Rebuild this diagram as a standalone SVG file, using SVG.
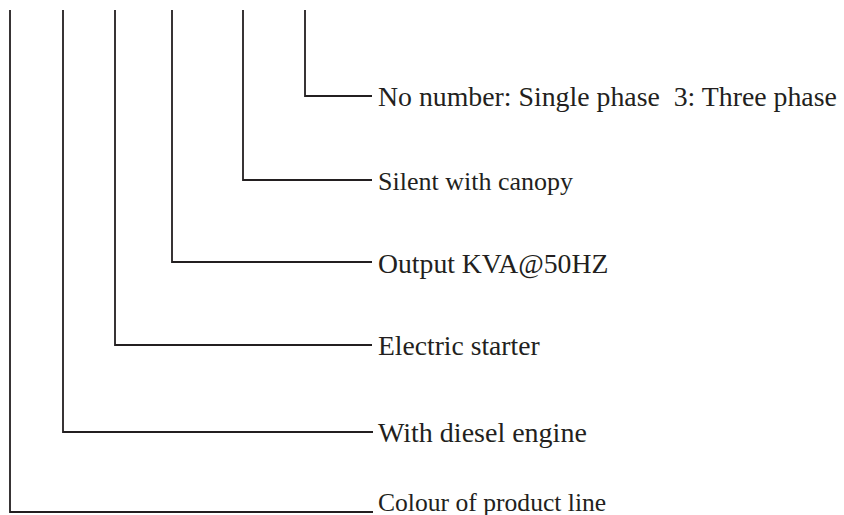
<svg xmlns="http://www.w3.org/2000/svg" width="844" height="515" viewBox="0 0 844 515">
<style>
.c{fill:none;stroke:#231f20;stroke-width:1.8}
text{font-family:"Liberation Serif","Times New Roman",serif;font-size:27.6px;fill:#231f20;white-space:pre}
</style>
<rect width="844" height="515" fill="#fff"/>
<g id="connectors">
<polyline class="c" points="305,10 305,96 372,96"/>
<polyline class="c" points="243,10 243,180 372,180"/>
<polyline class="c" points="172,10 172,262 372,262"/>
<polyline class="c" points="115,10 115,345 372,345"/>
<polyline class="c" points="63,10 63,432 373,432"/>
<polyline class="c" points="10,10 10,512 373,512"/>
</g>
<g id="n1"><text x="378" y="106" xml:space="preserve" style="font-size:27.8px">No number: Single phase  3: Three phase</text></g>
<g id="n2"><text x="378" y="190" style="font-size:26px">Silent with canopy</text></g>
<g id="n3"><text x="378" y="273" style="font-size:27.7px">Output KVA@50HZ</text></g>
<g id="n4"><text x="378" y="355">Electric starter</text></g>
<g id="n5"><text x="378" y="442" style="font-size:28px">With diesel engine</text></g>
<g id="n6"><text x="378" y="511" style="font-size:25.6px">Colour of product line</text></g>
</svg>
